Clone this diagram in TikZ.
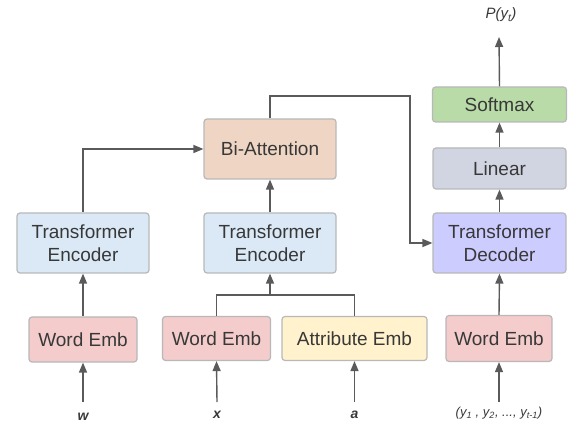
\documentclass[tikz,border=0pt]{standalone}
\usepackage{fontspec}
\setmainfont{Liberation Sans}
\usetikzlibrary{arrows.meta}
\definecolor{txt}{HTML}{383838}
\definecolor{edge}{HTML}{B8B8B8}
\definecolor{arr}{HTML}{5A5A5A}
\definecolor{wemb}{HTML}{F4CCCC}
\definecolor{enc}{HTML}{DBE9F7}
\definecolor{batt}{HTML}{EFD5C3}
\definecolor{attr}{HTML}{FFF2CC}
\definecolor{smax}{HTML}{B8DBA8}
\definecolor{lin}{HTML}{D1D4E1}
\definecolor{dec}{HTML}{CCCCFF}
\tikzset{
  box/.style={draw=edge, line width=1.2pt, rounded corners=3pt, text=txt,
    font=\fontsize{19}{22.5}\selectfont, align=center, inner sep=0pt},
  lab/.style={text=txt, font=\fontsize{14}{16}\selectfont\bfseries\itshape, inner sep=0pt},
  ilab/.style={text=txt, font=\fontsize{13}{15}\selectfont\itshape, inner sep=0pt},
  conn/.style={draw=arr, line width=1.4pt},
  arrw/.style={conn, -{Triangle[length=10pt,width=8pt]}},
}
\begin{document}
\begin{tikzpicture}[x=1pt,y=-1pt]
\useasboundingbox (0,0) rectangle (573,430);
% left column
\node[box, fill=enc, minimum width=132pt, minimum height=60pt] (le) at (83,243) {Transformer\\Encoder};
\node[box, fill=wemb, minimum width=108pt, minimum height=45pt] (lw) at (83,339.5) {Word Emb};
\node[lab] (w) at (83,417) {w};
\coordinate (ws) at (83,402);
% middle column
\node[box, fill=batt, minimum width=132pt, minimum height=60pt] (ba) at (270,149) {Bi-Attention};
\node[box, fill=enc, minimum width=132pt, minimum height=60pt] (me) at (270,243) {Transformer\\Encoder};
\node[box, fill=wemb, minimum width=108pt, minimum height=44pt] (mw) at (216.5,338.5) {Word Emb};
\node[box, fill=attr, minimum width=145pt, minimum height=44pt] (at) at (354.5,338.5) {Attribute Emb};
\node[lab] (x) at (217,415) {x};
\node[lab] (a) at (354.5,415) {a};
\coordinate (xs) at (217,402);
\coordinate (as) at (354.5,402);
\coordinate (mj) at (270,295);
% right column
\node[box, fill=smax, minimum width=134pt, minimum height=35pt] (sm) at (499.5,104.5) {Softmax};
\node[box, fill=lin, minimum width=133pt, minimum height=41pt] (li) at (499.5,168.5) {Linear};
\node[box, fill=dec, minimum width=133pt, minimum height=60pt] (de) at (499.5,243) {Transformer\\Decoder};
\node[box, fill=wemb, minimum width=106pt, minimum height=46pt] (rw) at (499,338.5) {Word Emb};
\node[ilab, font=\fontsize{15}{17}\selectfont\itshape] (p) at (501,15) {P(y\textsubscript{t})};
\node[ilab] (ys) at (499,413) {(y\textsubscript{1} , y\textsubscript{2}, ..., y\textsubscript{t-1})};
\coordinate (yst) at (499,402);
\coordinate (pt) at (499,37);
% connectors
\draw[arrw] (ws) -- (lw.south);
\draw[arrw] (lw.north) -- (le.south);
\draw[arrw] (le.north) |- (ba.west);
\draw[arrw] (xs) -- (mw.south);
\draw[arrw] (as) -- (at.south);
\draw[conn] (mw.north) |- (mj) -| (at.north);
\draw[arrw] (mj) -- (me.south);
\draw[arrw] (me.north) -- (ba.south);
\draw[arrw] (ba.north) -- (270,96) -| (410,243) -- (de.west);
\draw[arrw] (yst) -- (rw.south);
\draw[arrw] (rw.north) -- (de.south);
\draw[arrw] (de.north) -- (li.south);
\draw[arrw] (li.north) -- (sm.south);
\draw[arrw] (sm.north) -- (pt);
\end{tikzpicture}
\end{document}
